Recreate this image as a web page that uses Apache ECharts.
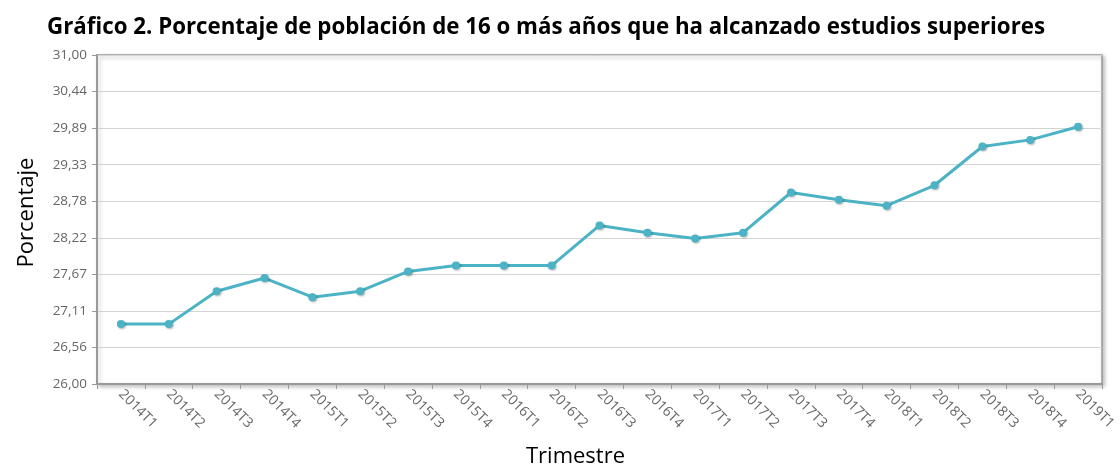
<!DOCTYPE html>
<html><head><meta charset="utf-8">
<script src="https://cdn.jsdelivr.net/npm/echarts@6/dist/echarts.min.js"></script>
<style>html,body{margin:0;padding:0;background:#fff}#c{width:1120px;height:464px}</style>
</head><body><div id="c"></div>
<script>
const titleText = 'Gráfico 2. Porcentaje de población de 16 o más años que ha alcanzado estudios superiores';
const categories = ['2014T1','2014T2','2014T3','2014T4','2015T1','2015T2','2015T3','2015T4','2016T1','2016T2','2016T3','2016T4','2017T1','2017T2','2017T3','2017T4','2018T1','2018T2','2018T3','2018T4','2019T1'];
const values = [26.91,26.91,27.41,27.61,27.32,27.41,27.71,27.80,27.80,27.80,28.41,28.30,28.21,28.30,28.91,28.80,28.71,29.02,29.61,29.71,29.91];
const yMin = 26, yMax = 31, ySteps = 9;

const chart = echarts.init(document.getElementById('c'));
chart.setOption({
  animation: false,
  title: {text: titleText, left: 42, top: 12, textStyle: {fontFamily: 'Open Sans', fontWeight: 'bold', fontSize: 22.3, color: '#000'}},
  grid: {left: 97, right: 18, top: 55, bottom: 80, outerBoundsMode: 'none', containLabel: false, show: true, borderColor: '#999', borderWidth: 1.5, backgroundColor: '#fff', shadowColor: 'rgba(0,0,0,0.25)', shadowBlur: 4, shadowOffsetX: 2, shadowOffsetY: 2},
  xAxis: {
    type: 'category', data: categories, boundaryGap: true,
    name: 'Trimestre', nameLocation: 'middle', nameGap: 62,
    nameTextStyle: {fontFamily: 'Open Sans', fontSize: 22, color: '#000', padding: [0, 48, 0, 0]},
    axisLine: {lineStyle: {color: '#999', width: 2}},
    axisTick: {show: true, alignWithLabel: false, length: 5, lineStyle: {color: '#999'}},
    axisLabel: {rotate: -45, fontFamily: 'Open Sans', fontSize: 14, color: '#666', margin: 8, interval: 0}
  },
  yAxis: {
    type: 'value', min: yMin, max: yMax, interval: (yMax - yMin) / ySteps,
    name: 'Porcentaje', nameLocation: 'middle', nameGap: 59,
    nameTextStyle: {fontFamily: 'Open Sans', fontSize: 22, color: '#000', padding: [0, 0, 0, 14]},
    axisLine: {show: true, lineStyle: {color: '#999', width: 2}},
    axisTick: {show: true, length: 5, lineStyle: {color: '#999'}},
    axisLabel: {fontFamily: 'Open Sans', fontSize: 13.5, color: '#666', margin: 10,
      formatter: v => v.toFixed(2).replace('.', ',')},
    splitLine: {lineStyle: {color: '#d4d4d4', width: 1}}
  },
  series: [{
    type: 'line', data: values, symbol: 'circle', symbolSize: 8,
    lineStyle: {color: '#4bb3c5', width: 3},
    itemStyle: {color: '#4bb3c5', shadowColor: 'rgba(0,0,0,0.3)', shadowBlur: 2, shadowOffsetX: 1, shadowOffsetY: 1}
  }]
});
</script></body></html>
